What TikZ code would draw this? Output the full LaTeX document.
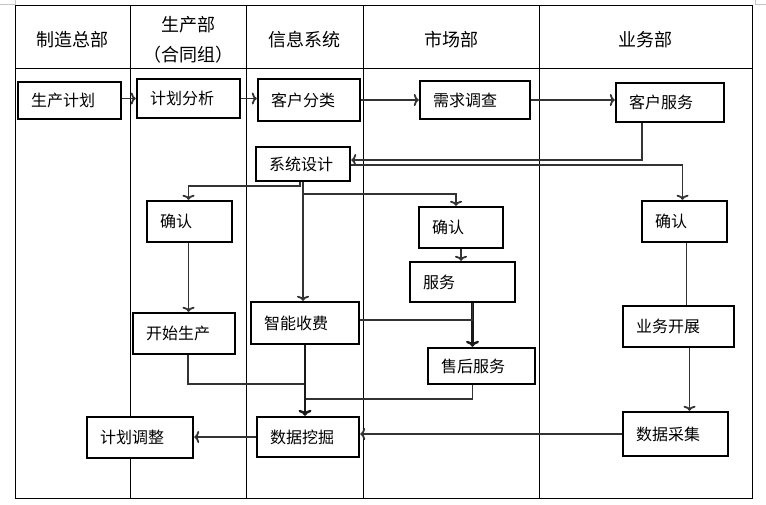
\documentclass[tikz,border=0pt]{standalone}
\usepackage{fontspec}
\newfontfamily\cjk{Noto Sans CJK SC}
\usetikzlibrary{arrows.meta}

\tikzset{
  box/.style={draw, line width=2.5pt, fill=white, inner xsep=13pt, inner ysep=0pt,
    align=left, font=\cjk\fontsize{16pt}{19pt}\selectfont},
  head/.style={align=center, font=\cjk\fontsize{18pt}{30pt}\selectfont},
  link/.style={line width=1.8pt, draw=black!80},
  flow/.style={link, -{To[length=5pt,width=12pt,line width=1.8pt]}},
  bigflow/.style={line width=2.6pt, draw=black!90, -{To[length=6pt,width=13pt,line width=2.4pt]}}
}

\begin{document}
\begin{tikzpicture}[x=1pt, y=-1pt]
        \useasboundingbox (0,0) rectangle (766,504);

        % Swimlane table
        \draw[line width=0.9pt] (15,5) rectangle (752,498);
        \draw[line width=0.9pt] (15,68) -- (752,68);
        \foreach \x in {130,246,363,539}
            \draw[line width=0.9pt] (\x,5) -- (\x,498);

        % corner marks
        \draw[gray!45, line width=0.6pt] (0,4) -- (15,4) -- (15,0);
        \draw[gray!45, line width=0.6pt] (766,4) -- (755,4) -- (755,0);

        % Lane titles
        \node[head] (h1) at (72.5,40) {制造总部};
        \node[head] (h2) at (188,40) {生产部\\（合同组）};
        \node[head] (h3) at (304.5,40) {信息系统};
        \node[head] (h4) at (451,40) {市场部};
        \node[head] (h5) at (645.5,40) {业务部};

        % Steps
        \node[box, text width=77pt, minimum height=37pt] (plan) at (69.5,100.5) {生产计划};
        \node[box, text width=77pt, minimum height=39pt] (ana) at (188.5,98.5) {计划分析};
        \node[box, text width=76pt, minimum height=42pt] (cls) at (309,100) {客户分类};
        \node[box, text width=84pt, minimum height=38pt] (survey) at (475,100) {需求调查};
        \node[box, text width=82pt, minimum height=39pt] (csvc) at (670,102.5) {客户服务};
        \node[box, text width=68pt, minimum height=34pt] (sys) at (303,164) {系统设计};
        \node[box, text width=59pt, minimum height=41pt] (cfmA) at (189.5,221.5) {确认};
        \node[box, text width=58pt, minimum height=41pt] (cfmB) at (461,227.5) {确认};
        \node[box, text width=59pt, minimum height=41pt] (cfmC) at (684.5,221.5) {确认};
        \node[box, text width=79pt, minimum height=40pt] (svc) at (462.5,282) {服务};
        \node[box, text width=85pt, minimum height=41pt] (biz) at (678.5,326.5) {业务开展};
        \node[box, text width=82pt, minimum height=42pt] (fee) at (305,323) {智能收费};
        \node[box, text width=76pt, minimum height=41pt] (start) at (184,333.5) {开始生产};
        \node[box, text width=81pt, minimum height=36pt] (after) at (481.5,366) {售后服务};
        \node[box, text width=80pt, minimum height=41pt] (adj) at (140,437.5) {计划调整};
        \node[box, text width=76pt, minimum height=40pt] (mine) at (308,437) {数据挖掘};
        \node[box, text width=79pt, minimum height=44pt] (coll) at (675.5,434) {数据采集};

        % Top row
        \draw[flow] (plan.east |- ana.west) -- (ana.west);
        \draw[flow] (ana.east) -- (ana.east -| cls.west);
        \draw[flow] (cls.east) -- (cls.east -| survey.west);
        \draw[flow] (survey.east) -- (survey.east -| csvc.west);

        % Back to system design and out again
        \draw[flow] ([xshift=-28pt]csvc.south) |- ([yshift=4pt]sys.east);
        \draw[flow] ([yshift=-1pt]sys.east) -| ([xshift=-2pt]cfmC.north);
        \draw[flow] ([xshift=-3pt]sys.south) -- ++(0,4) -| ([xshift=-1pt]cfmA.north);
        \draw[flow] (sys.south) -- ++(0,12) -| ([xshift=-5pt]cfmB.north);
        \draw[flow] (sys.south) -- (sys.south |- fee.north);

        % Lanes going down
        \draw[flow] ([xshift=-1pt]cfmA.south) -- ([xshift=-1pt]cfmA.south |- start.north);
        \draw[flow] (cfmB.south) -- (cfmB.south |- svc.north);
        \draw[link] ([xshift=2pt]cfmC.south) -- ([xshift=2pt]cfmC.south |- biz.north);
        \draw[flow] ([xshift=11pt]biz.south) -- ([xshift=11pt]biz.south |- coll.north);
        \draw[bigflow] ([xshift=10pt]svc.south) -- ([xshift=10pt]svc.south |- after.north);
        \draw[link] ([yshift=3pt]fee.east) -| ([xshift=10pt]svc.south);

        % Into data mining
        \draw[link] ([xshift=-9pt]after.south) |- ([yshift=-14pt]after.south -| fee.south);
        \draw[link] ([xshift=4pt]start.south) |- ([yshift=-39pt]fee.south);
        \draw[bigflow] (fee.south) -- (fee.south |- mine.north);
        \draw[flow] (coll.west) -- (coll.west -| mine.east);
        \draw[flow] (mine.west) -- (mine.west -| adj.east);
    \end{tikzpicture}
\end{document}
